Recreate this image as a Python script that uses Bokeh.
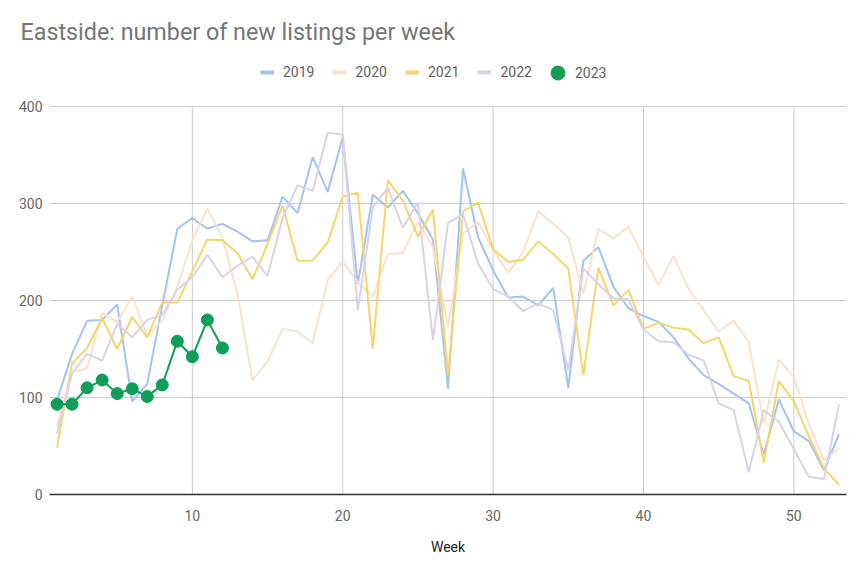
from bokeh.plotting import figure
from bokeh.models import Legend, LegendItem, Range1d, FixedTicker, Title
from bokeh.embed import file_html
from bokeh.resources import INLINE

weeks = list(range(1, 54))
y2019 = [97,145,179,180,196,96,114,195,274,285,274,279,271,261,262,307,290,348,312,368,217,309,296,313,290,263,109,336,265,231,203,204,195,213,110,241,255,214,192,184,178,162,140,123,114,104,94,41,98,65,55,25,62]
y2020 = [70,126,130,187,178,204,164,179,214,262,295,265,207,118,137,171,168,156,221,240,219,204,248,249,281,255,173,269,281,252,229,250,292,279,265,207,274,264,276,245,216,246,212,190,168,179,157,73,139,121,73,35,48]
y2021 = [48,135,151,182,150,183,162,198,198,230,263,262,249,222,258,298,241,241,260,307,311,150,324,303,266,294,123,292,301,253,240,242,261,248,233,123,234,195,211,171,177,172,170,156,162,122,117,33,117,96,60,27,10]
y2022 = [63,125,145,138,176,162,180,185,211,224,247,224,236,245,225,285,319,313,373,371,190,296,316,275,301,159,280,289,238,212,204,189,197,190,128,233,217,202,201,170,158,157,144,138,94,87,23,87,75,47,18,16,93]
weeks2023 = list(range(1, 13))
y2023 = [93,93,110,118,104,109,101,113,158,142,180,151]

series_labels = ["2019", "2020", "2021", "2022", "2023"]
x_ticks = [10, 20, 30, 40, 50]
y_ticks = [0, 100, 200, 300, 400]

FONT = "Roboto"
W, H = 864, 576
FRAME_TOP, FRAME_BOTTOM = 50, 494
Y400_PX = 106
y_top = y_ticks[-1] * (FRAME_BOTTOM - FRAME_TOP) / (FRAME_BOTTOM - Y400_PX)

p = figure(width=W, height=H, output_backend="svg", toolbar_location=None,
           x_range=Range1d(0.5, 53.5), y_range=Range1d(0, y_top),
           min_border_left=49, min_border_right=18,
           min_border_bottom=H - FRAME_BOTTOM, min_border_top=FRAME_TOP,
           title=None)
p.outline_line_color = None
p.background_fill_color = "white"
p.border_fill_color = "white"

# vertical grid lines, limited to the 0..400 band
p.segment(x0=x_ticks, y0=[y_ticks[0]] * len(x_ticks), x1=x_ticks, y1=[y_ticks[-1]] * len(x_ticks),
          line_color="#cccccc", line_width=1)

colors = ["#a4c2f4", "#f9e2c9", "#f6d56a", "#d9d2e9", "#0f9d58"]

r19 = p.line(weeks, y2019, line_color=colors[0], line_width=2)
r20 = p.line(weeks, y2020, line_color=colors[1], line_width=2)
r21 = p.line(weeks, y2021, line_color=colors[2], line_width=2)
r22 = p.line(weeks, y2022, line_color=colors[3], line_width=2)
r23l = p.line(weeks2023, y2023, line_color=colors[4], line_width=2)
r23 = p.scatter(weeks2023, y2023, size=12, fill_color=colors[4], line_color=colors[4])

# legend swatches (thicker than the data lines, as in the reference); no visible data
nan = float("nan")
sw = [p.line([nan], [nan], line_color=c, line_width=4) for c in colors[:4]]
sw23 = p.scatter([nan], [nan], size=13, fill_color=colors[4], line_color=colors[4])

p.xaxis.ticker = FixedTicker(ticks=x_ticks)
p.yaxis.ticker = FixedTicker(ticks=y_ticks)
for ax in (p.xaxis[0], p.yaxis[0]):
    ax.major_tick_line_color = None
    ax.minor_tick_line_color = None
    ax.major_label_text_font = FONT
    ax.major_label_text_font_size = "14px"
    ax.major_label_text_color = "#666666"
p.yaxis.axis_line_color = None
p.yaxis.major_label_standoff = 1
p.xaxis.axis_line_color = "#333333"
p.xaxis.axis_line_width = 1.5
p.xaxis.major_label_standoff = 9
p.xaxis.axis_label = "Week"
p.xaxis.axis_label_text_font = FONT
p.xaxis.axis_label_text_font_style = "normal"
p.xaxis.axis_label_text_font_size = "14px"
p.xaxis.axis_label_text_color = "#222222"
p.xaxis.axis_label_standoff = 15

p.xgrid.grid_line_color = None
p.ygrid.grid_line_color = "#cccccc"
p.ygrid.grid_line_width = 1


def style_legend(lg):
    lg.label_text_font = FONT
    lg.label_text_font_size = "14px"
    lg.label_text_color = "#616161"
    lg.padding = 0
    lg.margin = 0
    lg.border_line_color = None
    lg.background_fill_alpha = 0


legend = Legend(items=[
    LegendItem(label=series_labels[0], renderers=[sw[0]]),
    LegendItem(label=series_labels[1], renderers=[sw[1]]),
    LegendItem(label=series_labels[2], renderers=[sw[2]]),
    LegendItem(label=series_labels[3], renderers=[sw[3]]),
], orientation="horizontal", location=(211, 414))
style_legend(legend)
legend.glyph_width = 14
legend.glyph_height = 14
legend.label_standoff = 9
legend.spacing = 18
p.add_layout(legend, "center")

legend23 = Legend(items=[LegendItem(label=series_labels[4], renderers=[sw23])],
                  orientation="horizontal", location=(491, 404))
style_legend(legend23)
legend23.glyph_width = 35
legend23.glyph_height = 35
legend23.label_standoff = 0
p.add_layout(legend23, "center")

title = Title(text="Eastside: number of new listings per week", text_font=FONT,
              text_font_size="23.3px", text_color="#757575", text_font_style="normal",
              align="left", offset=-29)
p.add_layout(title, "above")

open("out.html", "w").write(file_html(p, INLINE))
